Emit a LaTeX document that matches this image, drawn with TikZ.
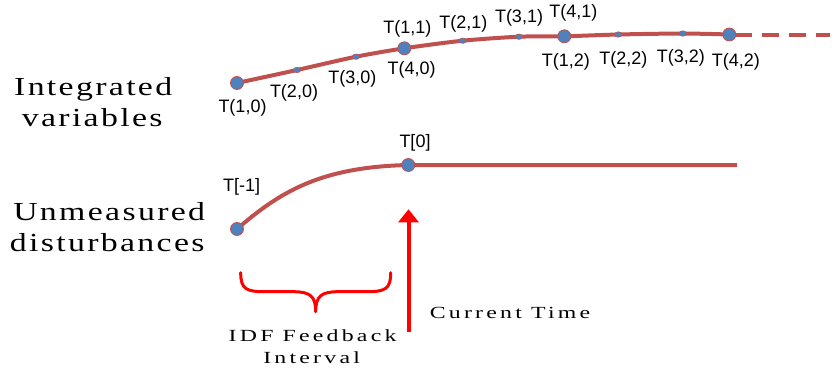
\documentclass[tikz,border=0pt]{standalone}
\usepackage{fontspec}
\setmainfont{Liberation Serif}
\newfontfamily\labfont{Liberation Sans}
\newfontfamily\sidefont[FakeStretch=1.3,LetterSpace=9]{Liberation Serif}
\newfontfamily\bottomfont[FakeStretch=1.4,LetterSpace=19]{Liberation Serif}
\usetikzlibrary{arrows.meta,shapes.geometric}
\definecolor{curvered}{HTML}{C0504D}
\definecolor{dotblue}{HTML}{4F81BD}
\tikzset{
  curve/.style={draw=curvered, line width=4pt},
  bigdot/.style={circle, fill=dotblue, draw=curvered, line width=0.8pt, minimum size=13pt, inner sep=0pt},
  smalldot/.style={ellipse, fill=dotblue, draw=curvered, line width=0.5pt, minimum width=7.5pt, minimum height=5.5pt, inner sep=0pt},
  tlabel/.style={font=\labfont\fontsize{18}{18}\selectfont, inner sep=0pt},
  sidelabel/.style={font=\sidefont\fontsize{26}{26}\selectfont, inner sep=0pt, anchor=base},
  bottomlabel/.style={font=\bottomfont\fontsize{17}{17}\selectfont, inner sep=0pt, anchor=base},
  redline/.style={draw=red, line width=4pt},
}
\begin{document}
\begin{tikzpicture}[x=1pt,y=-1pt]
\useasboundingbox (0,0) rectangle (838,372);
% coordinates of the top curve
\coordinate (c10) at (237,83);
\coordinate (c20) at (297,70);
\coordinate (c30) at (356,56.7);
\coordinate (c40) at (404.3,48.3);
\coordinate (c21) at (462.7,40.7);
\coordinate (c31) at (519,36.7);
\coordinate (c41) at (564.3,36.3);
\coordinate (c22) at (618.3,34.5);
\coordinate (c32) at (682.7,33.5);
\coordinate (c42) at (729.3,34.5);
\coordinate (dashA) at (752,34.5);
\coordinate (dashB) at (830,34.5);
% bottom curve
\coordinate (cm1) at (237,229);
\coordinate (c0) at (408.3,165);
\coordinate (cend) at (737,165);
% curves
\draw[curve] plot[smooth, tension=0.45] coordinates {(c10) (c20) (c30) (c40) (c21) (c31) (c41) (c22) (c32) (c42)};
\draw[curve] (c42) -- (dashA);
\draw[curve, dash pattern=on 17pt off 10pt, dash phase=17pt] (dashA) -- (dashB);
\draw[curve] (cm1) .. controls (280,192) and (320,167) .. (c0) -- (cend);
% dots
\node[bigdot] (d10) at (c10) {};
\node[smalldot] (d20) at (c20) {};
\node[smalldot] (d30) at (c30) {};
\node[bigdot] (d40) at (c40) {};
\node[smalldot] (d21) at (c21) {};
\node[smalldot] (d31) at (c31) {};
\node[bigdot] (d41) at (c41) {};
\node[smalldot] (d22) at (c22) {};
\node[smalldot] (d32) at (c32) {};
\node[bigdot] (d42) at (c42) {};
\node[bigdot] (dm1) at (cm1) {};
\node[bigdot] (d0) at (c0) {};
% labels of the top curve
\node[tlabel] (l10) at (242.5,107.7) {T(1,0)};
\node[tlabel] (l20) at (294,93.3) {T(2,0)};
\node[tlabel] (l30) at (352.3,79) {T(3,0)};
\node[tlabel] (l40) at (411.7,70) {T(4,0)};
\node[tlabel] (l11) at (407.3,28.7) {T(1,1)};
\node[tlabel] (l21) at (463.3,24) {T(2,1)};
\node[tlabel] (l31) at (519,18.3) {T(3,1)};
\node[tlabel] (l41) at (573.3,13.3) {T(4,1)};
\node[tlabel] (l12) at (565.8,61.7) {T(1,2)};
\node[tlabel] (l22) at (623.3,60) {T(2,2)};
\node[tlabel] (l32) at (680.8,57.7) {T(3,2)};
\node[tlabel] (l42) at (735.8,61.7) {T(4,2)};
% labels of the bottom curve
\node[tlabel] (lm1) at (241.7,186.7) {T[-1]};
\node[tlabel] (l0) at (415,143.3) {T[0]};
% side labels
\node[sidelabel] (int1) at (93.2,95) {Integrated};
\node[sidelabel] (int2) at (92.2,126) {variables};
\node[sidelabel] (un1) at (109.2,220) {Unmeasured};
\node[sidelabel] (un2) at (107.2,251.7) {disturbances};
% current time arrow
\coordinate (arrowfoot) at (408.5,331.7);
\coordinate (arrowtip) at (408.5,209.3);
\draw[redline, -{Triangle[length=13pt,width=20pt]}] (arrowfoot) -- (arrowtip);
\node[bottomlabel] (ct) at (510,318) {Current Time};
% brace
\draw[draw=red, line width=3pt, line cap=round, line join=round]
  (240.7,272.7) .. controls (240.7,289) and (246,291.7) .. (265,291.7)
  -- (293,291.7) .. controls (310,291.7) and (315.7,296) .. (315.7,311.7)
  .. controls (315.7,296) and (321.4,291.7) .. (338.4,291.7)
  -- (366.4,291.7) .. controls (385.4,291.7) and (390.7,289) .. (390.7,272.7);
\node[bottomlabel] (idf1) at (312.6,341.7) {IDF Feedback};
\node[bottomlabel] (idf2) at (311.6,363) {Interval};
\end{tikzpicture}
\end{document}
